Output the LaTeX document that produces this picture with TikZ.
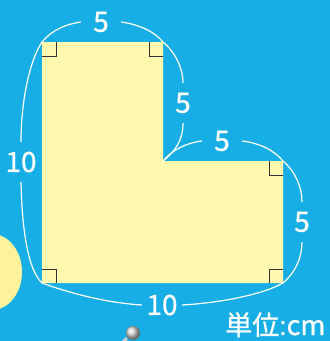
\documentclass[tikz,border=0pt]{standalone}
\usepackage{fontspec}
\usetikzlibrary{calc}
\newfontfamily\jpfont[FakeBold=0.8]{Noto Sans CJK JP}
\definecolor{sky}{HTML}{17AEE5}
\definecolor{paper}{HTML}{FFF8AF}
\definecolor{sun}{HTML}{FFF29C}
\tikzset{
  len/.style={text=white, font=\jpfont\fontsize{28}{28}\selectfont, minimum size=40pt, inner sep=0pt},
  brace/.style={white, line width=1.2pt},
  corner/.style={draw=black!80, line width=1pt},
}

\begin{document}
\begin{tikzpicture}[x=1pt,y=-1pt]
        \useasboundingbox (0,0) rectangle (330,341);
        \clip (0,0) rectangle (330,341);
        \fill[sky] (0,0) rectangle (330,341);
        \fill[sun] (-8,272) ellipse [x radius=30pt, y radius=38pt];

        \coordinate (A) at (42,42);
        \coordinate (B) at (163,42);
        \coordinate (C) at (163,161);
        \coordinate (D) at (283,161);
        \coordinate (E) at (283,283);
        \coordinate (F) at (42,283);
        \fill[paper] (A) -- (B) -- (C) -- (D) -- (E) -- (F) -- cycle;

        \foreach \c/\dx/\dy in {A/1/1,B/-1/1,D/-1/1,E/-1/-1,F/1/-1}
            \draw[corner] ($(\c)+(0,14*\dy)$) -- ++(14*\dx,0) -- ++(0,-14*\dy);

        \node[len] (topfive) at (101,22) {5};
        \node[len] (leftten) at (21,162) {10};
        \node[len] (rufive) at (183,103) {5};
        \node[len] (midfive) at (222,141) {5};
        \node[len] (rlfive) at (302,222) {5};
        \node[len] (botten) at (162,305) {10};

        \draw[brace] (A) .. controls (52,30) and (66,24) .. (topfive.west);
        \draw[brace] (topfive.east) .. controls (136,24) and (153,30) .. (B);
        \draw[brace] (B) .. controls (175,52) and (183,68) .. (rufive.north);
        \draw[brace] (rufive.south) .. controls (183,140) and (175,152) .. (C);
        \draw[brace] (C) .. controls (172,150) and (186,143) .. (midfive.west);
        \draw[brace] (midfive.east) .. controls (259,143) and (274,150) .. (D);
        \draw[brace] (D) .. controls (295,171) and (302,187) .. (rlfive.north);
        \draw[brace] (rlfive.south) .. controls (302,258) and (295,273) .. (E);
        \draw[brace] (A) .. controls (30,60) and (21,100) .. (leftten.north);
        \draw[brace] (leftten.south) .. controls (22,230) and (28,270) .. (F);
        \draw[brace] (F) .. controls (75,295) and (110,303) .. (botten.west);
        \draw[brace] (botten.east) .. controls (218,303) and (262,295) .. (E);

        \node[anchor=base east, text=white, font=\jpfont\fontsize{27}{27}\selectfont] (unit) at (329,335) {単位:cm};

        \draw[gray!40, line width=3pt] (127,338) -- (119,346);
        \shade[ball color=gray!30] (133,333) circle (7pt);
\end{tikzpicture}
\end{document}
